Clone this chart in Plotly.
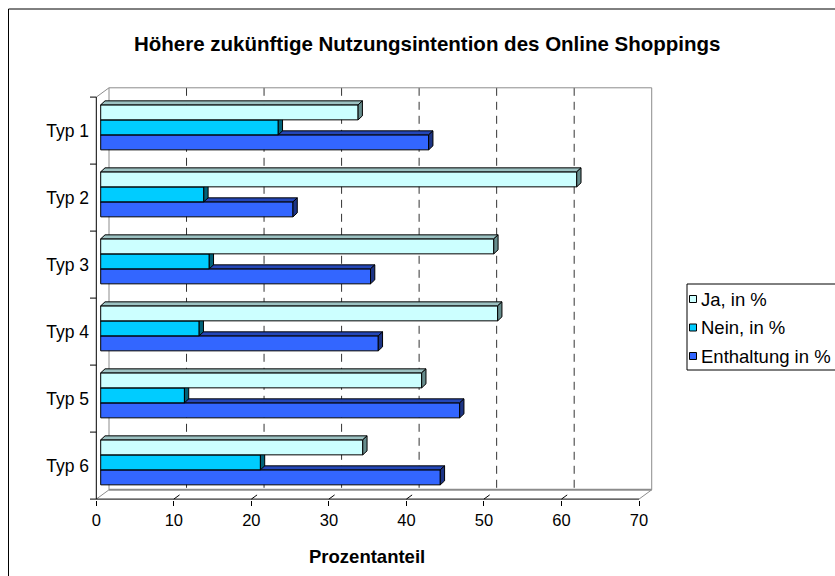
import plotly.graph_objects as go

# ---- data -------------------------------------------------------------
categories = ["Typ 1", "Typ 2", "Typ 3", "Typ 4", "Typ 5", "Typ 6"]
ja = [33.2, 61.4, 50.7, 51.2, 41.4, 33.8]
nein = [22.9, 13.3, 14.0, 12.7, 10.8, 20.6]
enthaltung = [42.3, 24.8, 34.8, 35.8, 46.3, 43.8]
series_names = ["Ja, in %", "Nein, in %", "Enthaltung in %"]
x_ticks = [0, 10, 20, 30, 40, 50, 60, 70]

# ---- geometry (pixels) ------------------------------------------------
W, H = 835, 576
L, R, T, B = 90, 660, 80, 500          # plot area
X0PX, XSCALE = 96.3, 7.753             # front zero, px per percent
Y0PX, YSCALE = 130.6, 67.0             # first category centre, px per category
XMAX = 70

FONT = "Liberation Sans, Arial, sans-serif"


def xd(px):
    return (px - X0PX) / XSCALE


def yd(py):
    return (py - Y0PX) / YSCALE


def paper_x(px):
    return (px - L) / (R - L)


def paper_y(py):
    return (B - py) / (B - T)


# oblique depth vectors, expressed in data units
WALL_DX, WALL_DY = 12.7 / XSCALE, -9.3 / YSCALE      # full box depth
BAR_FX, BAR_FY = 4.4 / XSCALE, -3.25 / YSCALE        # bar front plane
BAR_DX, BAR_DY = 4.3 / XSCALE, -4.0 / YSCALE         # bar thickness
BAR_H = 15.0 / YSCALE
GROUP_TOP = -22.5 / YSCALE

styles = [  # front, top, side
    ("#CCFFFF", "#9CC2C2", "#668C8C"),
    ("#00CCFF", "#0099BB", "#00637A"),
    ("#3366FF", "#2447B8", "#1C3485"),
]
values = [ja, nein, enthaltung]

fig = go.Figure()

# bottom bar of each group first so upper bars cover hidden top faces
for s in [2, 1, 0]:
    front, top_c, side_c = styles[s]
    vals = values[s]
    tops = [i + GROUP_TOP + s * BAR_H + BAR_FY for i in range(len(categories))]
    centres = [t + BAR_H / 2 for t in tops]
    fig.add_trace(go.Bar(
        orientation="h", y=centres, x=vals, base=[BAR_FX] * len(vals),
        width=BAR_H, marker=dict(color=front, line=dict(color="black", width=1)),
        name=series_names[s], showlegend=False, zorder=2 * (2 - s),
        hovertemplate="%{x}<extra>" + series_names[s] + "</extra>",
    ))
    tx, ty, sx, sy = [], [], [], []
    for v, t in zip(vals, tops):
        b = t + BAR_H
        x0, x1 = BAR_FX, BAR_FX + v
        tx += [x0, x0 + BAR_DX, x1 + BAR_DX, x1, x0, None]
        ty += [t, t + BAR_DY, t + BAR_DY, t, t, None]
        sx += [x1, x1 + BAR_DX, x1 + BAR_DX, x1, x1, None]
        sy += [t, t + BAR_DY, b + BAR_DY, b, t, None]
    for px_, py_, col in [(tx, ty, top_c), (sx, sy, side_c)]:
        fig.add_trace(go.Scatter(
            x=px_, y=py_, mode="lines", fill="toself", fillcolor=col,
            line=dict(color="black", width=1), showlegend=False,
            hoverinfo="skip", zorder=2 * (2 - s) + 1,
        ))

shapes = []


def seg(x0, y0, x1, y1, color, width=1, dash=None, layer="below"):
    line = dict(color=color, width=width)
    if dash:
        line["dash"] = dash
    shapes.append(dict(type="line", xref="x", yref="y", x0=x0, y0=y0,
                       x1=x1, y1=y1, line=line, layer=layer))


ytop, ybot = -0.5, len(categories) - 0.5
GRAY = "#8C8C8C"
# back wall gridlines
for v in x_ticks[1:-1]:
    seg(v + WALL_DX, ytop + WALL_DY, v + WALL_DX, ybot + WALL_DY, "#333333", 1, "8px,6px")
# back wall frame
seg(WALL_DX, ytop + WALL_DY, XMAX + WALL_DX, ytop + WALL_DY, GRAY)
seg(WALL_DX, ytop + WALL_DY, WALL_DX, ybot + WALL_DY, GRAY)
seg(XMAX + WALL_DX, ytop + WALL_DY, XMAX + WALL_DX, ybot + WALL_DY, GRAY)
seg(WALL_DX, ybot + WALL_DY, XMAX + WALL_DX, ybot + WALL_DY, GRAY, 2)
# side / floor edges
seg(0, ytop, WALL_DX, ytop + WALL_DY, GRAY)
seg(0, ybot, WALL_DX, ybot + WALL_DY, GRAY)
seg(XMAX, ybot, XMAX + WALL_DX, ybot + WALL_DY, GRAY)
# front axes
seg(0, ytop, 0, ybot, "black", 1, layer="above")
seg(0, ybot, XMAX, ybot, "black", 1, layer="above")
for v in x_ticks[1:-1]:
    seg(v, ybot, v + 0.45 * WALL_DX, ybot + 0.45 * WALL_DY, "black", 1)
for k in range(len(categories) + 1):
    seg(xd(L), ytop + k, 0, ytop + k, "black", 1, layer="above")

# outer chart frame
shapes.append(dict(type="rect", xref="paper", yref="paper",
                   x0=paper_x(8.5), y0=paper_y(9), x1=paper_x(850), y1=paper_y(600),
                   line=dict(color="black", width=1)))

# legend box
LEG_L, LEG_T, LEG_B = 687, 284, 370
shapes.append(dict(type="rect", xref="paper", yref="paper",
                   x0=paper_x(LEG_L), y0=paper_y(LEG_T), x1=paper_x(850), y1=paper_y(LEG_B),
                   line=dict(color="black", width=1), fillcolor="white"))
annotations = []
for k, name in enumerate(series_names):
    cy = 299 + k * 28.5
    shapes.append(dict(type="rect", xref="paper", yref="paper",
                       x0=paper_x(689.5), x1=paper_x(696.5),
                       y0=paper_y(cy + 3.5), y1=paper_y(cy - 3.5),
                       fillcolor=styles[k][0], line=dict(color="black", width=1)))
    annotations.append(dict(xref="paper", yref="paper", x=paper_x(698.5), y=paper_y(cy),
                            xanchor="left", yanchor="middle", showarrow=False, text=name,
                            font=dict(family=FONT, size=18.5, color="black")))

annotations.append(dict(xref="paper", yref="paper", x=paper_x(427.5), y=paper_y(43),
                        xanchor="center", yanchor="middle", showarrow=False,
                        text="<b>Höhere zukünftige Nutzungsintention des Online Shoppings</b>",
                        font=dict(family=FONT, size=20.5, color="black")))
annotations.append(dict(xref="paper", yref="paper", x=paper_x(367), y=paper_y(556),
                        xanchor="center", yanchor="middle", showarrow=False,
                        text="<b>Prozentanteil</b>",
                        font=dict(family=FONT, size=18.5, color="black")))

fig.update_layout(
    width=W, height=H,
    margin=dict(l=L, r=W - R, t=T, b=H - B, pad=0),
    paper_bgcolor="white", plot_bgcolor="white",
    barmode="overlay", showlegend=False,
    font=dict(family=FONT, color="black"),
    shapes=shapes, annotations=annotations,
    xaxis=dict(range=[xd(L), xd(R)], tickmode="array", tickvals=x_ticks,
               ticks="outside", ticklen=5, tickcolor="black", tickwidth=1,
               showgrid=False, zeroline=False, showline=False,
               tickfont=dict(family=FONT, size=16.5, color="black")),
    yaxis=dict(range=[yd(B), yd(T)], tickmode="array",
               tickvals=list(range(len(categories))), ticktext=categories,
               ticks="", showgrid=False, zeroline=False, showline=False,
               tickfont=dict(family=FONT, size=17.5, color="black")),
)

fig.write_html("out.html")
